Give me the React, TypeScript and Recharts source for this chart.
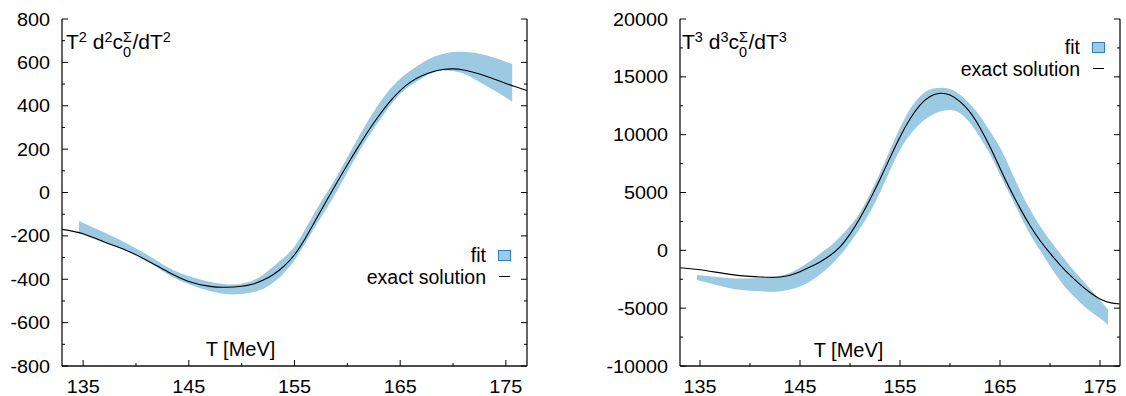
import React from "react";
import { ComposedChart, Area, Line, XAxis, YAxis } from "recharts";

const FONT = "'Liberation Sans', Arial, Helvetica, sans-serif";
const SX = 1.1; // tick labels are a little wider than plain Arial

// shared x axis
const xTicks = [135, 140, 145, 150, 155, 160, 165, 170, 175];
const xMajor = [135, 145, 155, 165, 175];

// left panel: T^2 d^2c/dT^2
const leftYTicks = [-800, -700, -600, -500, -400, -300, -200, -100, 0, 100, 200, 300, 400, 500, 600, 700, 800];
const leftYMajor = [-800, -600, -400, -200, 0, 200, 400, 600, 800];

const leftBandT = [134.6, 137, 139.4, 141.5, 143.5, 146, 148.5, 150.5, 152, 153.5, 155.1, 157, 159, 161, 163.3, 165, 166.3, 167.5, 168.7, 170, 171.3, 172.5, 174, 175.6];
const leftBandLow = [-188, -232, -275, -330, -391, -440, -468, -465, -445, -395, -305, -155, 5, 180, 350, 455, 504, 540, 560, 560, 542, 510, 468, 419];
const leftBandHigh = [-131, -185, -242, -300, -357, -400, -423, -415, -380, -320, -242, -85, 75, 250, 431, 525, 573, 610, 634, 648, 648, 640, 620, 592];

const leftExactT = [133, 135, 137, 139, 141, 143, 145, 147, 148.5, 150, 151, 152, 153, 154, 155, 156, 157, 158, 159, 160, 161, 162, 163, 164, 165, 166, 167, 168, 169, 170, 171, 172, 173, 174, 175, 176, 177];
const leftExactV = [-170, -190, -228, -265, -312, -365, -410, -433, -437, -432, -423, -405, -378, -340, -287, -213, -127, -40, 45, 128, 208, 285, 355, 418, 470, 510, 537, 556, 567, 570, 565, 553, 538, 521, 503, 486, 470];

// right panel: T^3 d^3c/dT^3
const rightYTicks = [-10000, -7500, -5000, -2500, 0, 2500, 5000, 7500, 10000, 12500, 15000, 17500, 20000];
const rightYMajor = [-10000, -5000, 0, 5000, 10000, 15000, 20000];

const rightBandT = [134.7, 136, 138, 140, 142, 143, 144, 145, 146, 147, 148, 149, 150, 151, 152, 153, 154, 155, 156, 157, 158, 159, 160, 161, 162, 163, 164, 165, 166, 167, 168, 169, 170, 171, 172, 173, 174, 175, 175.8];
const rightBandLow = [-2566, -2850, -3285, -3500, -3577, -3530, -3380, -3120, -2700, -2100, -1350, -450, 650, 1900, 3300, 5000, 6900, 8700, 10000, 10950, 11600, 12000, 12130, 11850, 11000, 9750, 8300, 6550, 4800, 3050, 1400, 0, -1350, -2600, -3650, -4500, -5250, -5880, -6450];
const rightBandHigh = [-2134, -2250, -2420, -2420, -2333, -2200, -1950, -1500, -950, -300, 350, 1150, 2100, 3300, 4900, 6700, 8700, 10600, 12200, 13300, 13900, 14060, 13950, 13450, 12650, 11600, 10300, 8900, 7100, 5200, 3550, 2100, 880, -250, -1350, -2350, -3330, -4310, -5090];

const rightExactT = [133, 135, 138, 140, 141, 142, 143, 144, 145, 146, 147, 148, 149, 150, 151, 152, 153, 154, 155, 156, 157, 158, 159, 160, 161, 162, 163, 164, 165, 166, 167, 168, 169, 170, 171, 172, 173, 174, 175, 176, 177];
const rightExactV = [-1500, -1680, -2076, -2250, -2300, -2333, -2300, -2150, -1848, -1450, -1000, -450, 300, 1400, 2800, 4400, 6150, 8000, 9800, 11350, 12550, 13300, 13580, 13420, 12850, 11950, 10600, 8950, 7100, 5300, 3650, 2150, 850, -250, -1250, -2150, -2950, -3650, -4200, -4520, -4640];

const BAND = "#9ccae3";

const band = (t: number[], lo: number[], hi: number[]) =>
  t.map((T, i) => ({ T, range: [lo[i], hi[i]] }));
const curve = (t: number[], v: number[]) => t.map((T, i) => ({ T, v: v[i] }));

type Side = "bottom" | "top" | "left" | "right";

function tickMark(side: Side, majors: number[], labels: boolean) {
  return (p: any) => {
    const { x, y, payload } = p;
    const v = payload.value;
    const major = majors.includes(v);
    const len = major ? 6 : 3;
    const textStyle = { fontFamily: FONT, fontSize: 18, fill: "#000" };
    let line = null;
    let label = null;
    if (side === "bottom") {
      line = <line x1={x} y1={y} x2={x} y2={y - len} stroke="#000" />;
      if (labels && major)
        label = (
          <text transform={`translate(${x},${y + 27}) scale(${SX},1)`} textAnchor="middle" style={textStyle}>
            {v}
          </text>
        );
    } else if (side === "top") {
      line = <line x1={x} y1={y} x2={x} y2={y + len} stroke="#000" />;
    } else if (side === "left") {
      line = <line x1={x} y1={y} x2={x + len} y2={y} stroke="#000" />;
      if (labels && major)
        label = (
          <text transform={`translate(${x - 12},${y + 6.5}) scale(${SX},1)`} textAnchor="end" style={textStyle}>
            {v}
          </text>
        );
    } else {
      line = <line x1={x} y1={y} x2={x - len} y2={y} stroke="#000" />;
    }
    return (
      <g>
        {line}
        {label}
      </g>
    );
  };
}

const frame = { stroke: "#111", strokeWidth: 1.3 };

interface PanelProps {
  left: number;
  width: number;
  yWidth: number;
  rWidth: number;
  yTicks: number[];
  yMajor: number[];
  bandData: { T: number; range: number[] }[];
  exactData: { T: number; v: number }[];
}

function Panel({ left, width, yWidth, rWidth, yTicks, yMajor, bandData, exactData }: PanelProps) {
  const yDomain = [yTicks[0], yTicks[yTicks.length - 1]];
  return (
    <div style={{ position: "absolute", left, top: 0 }}>
      <ComposedChart width={width} height={396} margin={{ top: 19, right: 0, bottom: 0, left: 0 }}>
        <XAxis
          xAxisId="b"
          type="number"
          dataKey="T"
          domain={[133, 177]}
          allowDataOverflow
          ticks={xTicks}
          interval={0}
          height={30}
          tickSize={0}
          tickMargin={0}
          tickLine={false}
          axisLine={frame}
          tick={tickMark("bottom", xMajor, true)}
        />
        <XAxis
          xAxisId="t"
          orientation="top"
          type="number"
          dataKey="T"
          domain={[133, 177]}
          allowDataOverflow
          ticks={xTicks}
          interval={0}
          height={0}
          tickSize={0}
          tickMargin={0}
          tickLine={false}
          axisLine={frame}
          tick={tickMark("top", xMajor, false)}
        />
        <YAxis
          yAxisId="l"
          type="number"
          domain={yDomain}
          allowDataOverflow
          ticks={yTicks}
          interval={0}
          width={yWidth}
          tickSize={0}
          tickMargin={0}
          tickLine={false}
          axisLine={frame}
          tick={tickMark("left", yMajor, true)}
        />
        <YAxis
          yAxisId="r"
          orientation="right"
          type="number"
          domain={yDomain}
          allowDataOverflow
          ticks={yTicks}
          interval={0}
          width={rWidth}
          tickSize={0}
          tickMargin={0}
          tickLine={false}
          axisLine={frame}
          tick={tickMark("right", yMajor, false)}
        />
        <Area
          xAxisId="b"
          yAxisId="l"
          data={bandData}
          dataKey="range"
          type="natural"
          stroke="none"
          fill={BAND}
          fillOpacity={1}
          isAnimationActive={false}
        />
        <Line
          xAxisId="b"
          yAxisId="l"
          data={exactData}
          dataKey="v"
          type="natural"
          stroke="#000"
          strokeWidth={1.1}
          dot={false}
          isAnimationActive={false}
        />
      </ComposedChart>
    </div>
  );
}

const text = { position: "absolute" as const, fontFamily: FONT, lineHeight: 1, whiteSpace: "nowrap" as const, color: "#000" };

function Title({ left, n }: { left: number; n: string }) {
  const sup = { position: "relative" as const, top: -7, fontSize: 14.5 };
  return (
    <div style={{ ...text, left, top: 31, fontSize: 21 }}>
      T<span style={sup}>{n}</span> d<span style={sup}>{n}</span>c
      <span style={{ position: "relative", display: "inline-block", width: 9.5 }}>
        <span style={{ position: "absolute", left: 0, top: -19, fontSize: 14.5, lineHeight: 1 }}>Σ</span>
        <span style={{ position: "absolute", left: 0, top: -4, fontSize: 14.5, lineHeight: 1 }}>0</span>
      </span>
      /dT<span style={sup}>{n}</span>
    </div>
  );
}

function Key({ right, top }: { right: number; top: number }) {
  const x = 1126 - right;
  return (
    <>
      <div style={{ ...text, right: right + 12, top, fontSize: 19.5 }}>fit</div>
      <div
        style={{
          position: "absolute",
          left: x,
          top: top + 4,
          width: 11,
          height: 9,
          background: BAND,
          border: "1px solid #2c7fb8",
        }}
      />
      <div style={{ ...text, right: right + 12, top: top + 21.6, fontSize: 19.5 }}>exact solution</div>
      <div style={{ position: "absolute", left: x + 1, top: top + 30, width: 11, height: 1, background: "#000" }} />
    </>
  );
}

export default function App() {
  return (
    <div style={{ position: "absolute", left: 0, top: 0, width: 1126, height: 396, background: "#fff", overflow: "hidden" }}>
      <Panel
        left={0}
        width={540}
        yWidth={62}
        rWidth={13}
        yTicks={leftYTicks}
        yMajor={leftYMajor}
        bandData={band(leftBandT, leftBandLow, leftBandHigh)}
        exactData={curve(leftExactT, leftExactV)}
      />
      <Panel
        left={570}
        width={556}
        yWidth={110}
        rWidth={6}
        yTicks={rightYTicks}
        yMajor={rightYMajor}
        bandData={band(rightBandT, rightBandLow, rightBandHigh)}
        exactData={curve(rightExactT, rightExactV)}
      />
      <Title left={66} n="2" />
      <Title left={682} n="3" />
      <Key right={628} top={246} />
      <Key right={34} top={38} />
      <div style={{ ...text, left: 240.5, top: 339, fontSize: 20, transform: "translateX(-50%)" }}>T [MeV]</div>
      <div style={{ ...text, left: 848.5, top: 340, fontSize: 20, transform: "translateX(-50%)" }}>T [MeV]</div>
    </div>
  );
}
